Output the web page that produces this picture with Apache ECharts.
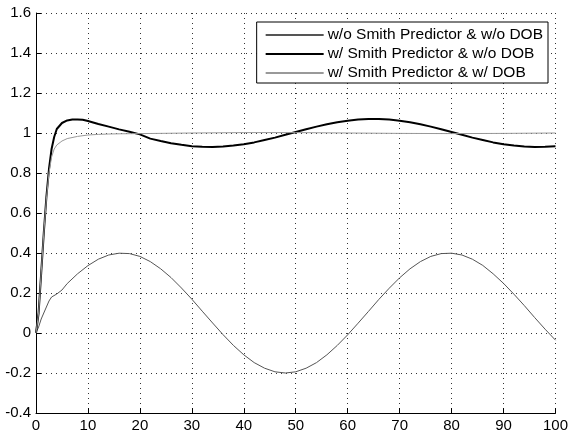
<!DOCTYPE html>
<html>
<head>
<meta charset="utf-8">
<script src="https://cdn.jsdelivr.net/npm/echarts@6/dist/echarts.min.js"></script>
<style>
html, body { margin: 0; padding: 0; background: #fff; }
#main { width: 571px; height: 439px; }
</style>
</head>
<body>
<div id="main"></div>
<script>
// series names (legend order)
var names = ['w/o Smith Predictor & w/o DOB', 'w/ Smith Predictor & w/o DOB', 'w/ Smith Predictor & w/ DOB'];

// w/o Smith Predictor & w/o DOB
var tNoSmith = [0, 0.5, 1, 1.5, 2, 2.5, 3, 4, 5, 6, 8, 10, 12, 14, 16, 18, 20, 22, 24, 26, 28, 30, 32, 34, 36, 38, 40, 42, 44, 46, 48, 50, 52, 54, 56, 58, 60, 62, 64, 66, 68, 70, 72, 74, 76, 78, 80, 82, 84, 86, 88, 90, 92, 94, 96, 98, 100];
var yNoSmith = [0, 0.03, 0.07, 0.1, 0.13, 0.16, 0.18, 0.195, 0.215, 0.247, 0.296, 0.337, 0.369, 0.39, 0.399, 0.397, 0.383, 0.357, 0.321, 0.277, 0.225, 0.169, 0.109, 0.05, -0.008, -0.062, -0.109, -0.148, -0.176, -0.194, -0.2, -0.194, -0.176, -0.148, -0.109, -0.062, -0.009, 0.049, 0.108, 0.168, 0.224, 0.276, 0.321, 0.357, 0.383, 0.397, 0.399, 0.39, 0.369, 0.338, 0.296, 0.248, 0.194, 0.137, 0.077, 0.019, -0.036];

// w/ Smith Predictor & w/o DOB
var tSmith = [0, 0.5, 1, 1.5, 2, 2.5, 3, 3.5, 4, 5, 6, 7, 8, 9, 10, 12, 14, 16, 18, 20, 22, 24, 26, 28, 30, 32, 34, 36, 38, 40, 42, 44, 46, 48, 50, 52, 54, 56, 58, 60, 62, 64, 66, 68, 70, 72, 74, 76, 78, 80, 82, 84, 86, 88, 90, 92, 94, 96, 98, 100];
var ySmith = [0, 0.1, 0.3, 0.5, 0.68, 0.82, 0.92, 0.98, 1.02, 1.05, 1.063, 1.068, 1.068, 1.066, 1.06, 1.045, 1.032, 1.018, 1.006, 0.993, 0.972, 0.96, 0.949, 0.941, 0.934, 0.931, 0.93, 0.932, 0.937, 0.944, 0.953, 0.965, 0.977, 0.991, 1.005, 1.019, 1.032, 1.044, 1.054, 1.061, 1.067, 1.07, 1.07, 1.067, 1.061, 1.054, 1.044, 1.032, 1.019, 1.005, 0.991, 0.977, 0.965, 0.953, 0.944, 0.937, 0.932, 0.93, 0.931, 0.934];

// w/ Smith Predictor & w/ DOB
var tDob = [0, 0.5, 1, 1.5, 2, 2.5, 3, 3.5, 4, 5, 6, 8, 10, 12, 14, 16, 20, 30, 40, 50, 60, 70, 80, 90, 100];
var yDob = [0, 0.1, 0.3, 0.5, 0.67, 0.8, 0.88, 0.92, 0.94, 0.96, 0.972, 0.983, 0.99, 0.993, 0.995, 0.996, 0.997, 1.0, 1.002, 1.002, 1.0, 0.998, 0.997, 0.998, 1.0];

function zip(t, y) {
    var out = [];
    for (var i = 0; i < t.length; i++) out.push([t[i], y[i]]);
    return out;
}

var font = 'Liberation Sans, Arial, sans-serif';
var gridLine = { show: true, lineStyle: { color: '#333', width: 1, type: [1, 4] } };

var chart = echarts.init(document.getElementById('main'));
chart.setOption({
    animation: false,
    backgroundColor: '#fff',
    grid: { left: 36, right: 12, top: 13, bottom: 26, containLabel: false },
    legend: {
        orient: 'vertical',
        right: 23,
        top: 22,
        itemWidth: 58,
        itemHeight: 14,
        itemGap: 3,
        padding: [5, 5, 2, 8],
        borderColor: '#000',
        borderWidth: 1,
        backgroundColor: '#fff',
        itemStyle: { opacity: 0 },
        textStyle: { fontFamily: font, fontSize: 15.5, color: '#000', padding: [0, 0, 0, -1] },
        data: names
    },
    xAxis: {
        type: 'value',
        min: 0, max: 100, interval: 10,
        axisLine: { show: true, onZero: false, lineStyle: { color: '#000', width: 1 } },
        axisTick: { show: true, inside: true, length: 5, lineStyle: { color: '#000' } },
        axisLabel: { fontFamily: font, fontSize: 15, color: '#000', margin: 5 },
        splitLine: gridLine
    },
    yAxis: {
        type: 'value',
        min: -0.4, max: 1.6, interval: 0.2,
        axisLine: { show: true, onZero: false, lineStyle: { color: '#000', width: 1 } },
        axisTick: { show: true, inside: true, length: 5, lineStyle: { color: '#000' } },
        axisLabel: {
            fontFamily: font, fontSize: 15, color: '#000', margin: 5,
            formatter: function (v) { return String(+v.toFixed(1)); }
        },
        splitLine: gridLine
    },
    series: [{
        name: names[0],
        type: 'line',
        symbol: 'none',
        data: zip(tNoSmith, yNoSmith),
        lineStyle: { color: '#555', width: 1 },
        itemStyle: { color: '#555' }
    }, {
        name: names[1],
        type: 'line',
        symbol: 'none',
        data: zip(tSmith, ySmith),
        lineStyle: { color: '#000', width: 2 },
        itemStyle: { color: '#000' }
    }, {
        name: names[2],
        type: 'line',
        symbol: 'none',
        data: zip(tDob, yDob),
        lineStyle: { color: '#999', width: 1 },
        itemStyle: { color: '#999' }
    }]
});
</script>
</body>
</html>
